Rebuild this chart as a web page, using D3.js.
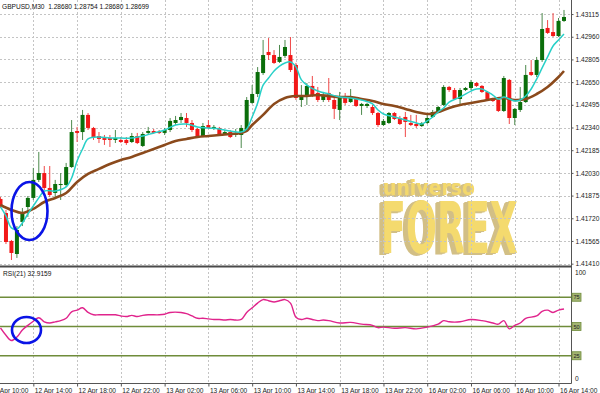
<!DOCTYPE html>
<html><head><meta charset="utf-8">
<script src="https://cdn.jsdelivr.net/npm/d3@7/dist/d3.min.js"></script>
<style>html,body{margin:0;padding:0;background:#fff;overflow:hidden}svg{display:block}</style>
</head><body><svg id="c" width="600" height="393"></svg>
<script>
// ---------- DATA ----------
const titleText = "GBPUSD,M30  1.28680 1.28754 1.28680 1.28699";
const rsiTitle = "RSI(21) 32.9159";
const watermarkTop = "universo";
const watermarkBottom = "FOREX";
const priceTicks = [1.43115,1.42960,1.42805,1.42650,1.42495,1.42340,1.42185,1.42030,1.41875,1.41720,1.41565,1.41410];
const timeTickIdx = [-2,6,14,22,30,38,46,54,62,70,78,86,94,102];
const timeLabels = ["12 Apr 10:00","12 Apr 14:00","12 Apr 18:00","12 Apr 22:00","13 Apr 02:00","13 Apr 06:00","13 Apr 10:00","13 Apr 14:00","13 Apr 18:00","13 Apr 22:00","16 Apr 02:00","16 Apr 06:00","16 Apr 10:00","16 Apr 14:00"];
const rsiLevels = [75,50,25];

const openP = [1.41852,1.41756,1.41565,1.41476,1.41695,1.41797,1.41859,1.41982,1.42029,1.41927,
1.41893,1.41947,1.41947,1.42070,1.42316,1.42309,1.42426,1.42337,1.42282,1.42268,
1.42268,1.42255,1.42255,1.42255,1.42241,1.42282,1.42214,1.42303,1.42316,1.42309,
1.42303,1.42323,1.42371,1.42391,1.42405,1.42371,1.42330,1.42282,1.42357,1.42337,
1.42337,1.42296,1.42309,1.42289,1.42289,1.42323,1.42508,1.42569,1.42712,1.42856,
1.42835,1.42788,1.42829,1.42835,1.42767,1.42528,1.42562,1.42624,1.42576,1.42528,
1.42576,1.42528,1.42460,1.42542,1.42514,1.42542,1.42487,1.42487,1.42480,1.42439,
1.42357,1.42371,1.42439,1.42405,1.42412,1.42371,1.42364,1.42350,1.42371,1.42412,
1.42439,1.42494,1.42617,1.42596,1.42535,1.42596,1.42610,1.42644,1.42624,1.42583,
1.42535,1.42528,1.42453,1.42665,1.42405,1.42460,1.42514,1.42719,1.42699,1.42801,
1.43020,1.42992,1.42965,1.43068];
const highP = [1.41865,1.41777,1.41572,1.41667,1.41790,1.41872,1.42064,1.42173,1.42077,1.42077,
1.41982,1.42029,1.42098,1.42391,1.42344,1.42460,1.42439,1.42344,1.42309,1.42289,
1.42289,1.42323,1.42275,1.42275,1.42303,1.42303,1.42309,1.42344,1.42330,1.42323,
1.42337,1.42405,1.42419,1.42439,1.42439,1.42391,1.42337,1.42371,1.42391,1.42357,
1.42344,1.42323,1.42323,1.42330,1.42357,1.42548,1.42630,1.42753,1.42938,1.42951,
1.42869,1.42904,1.42938,1.42958,1.42781,1.42630,1.42644,1.42692,1.42617,1.42583,
1.42678,1.42542,1.42583,1.42576,1.42603,1.42548,1.42508,1.42508,1.42494,1.42446,
1.42398,1.42446,1.42446,1.42419,1.42446,1.42426,1.42426,1.42378,1.42426,1.42460,
1.42487,1.42630,1.42624,1.42610,1.42610,1.42617,1.42665,1.42651,1.42630,1.42589,
1.42542,1.42548,1.42692,1.42671,1.42473,1.42617,1.42767,1.42801,1.42822,1.43122,
1.43074,1.43122,1.43088,1.43143];
const lowP = [1.41790,1.41544,1.41435,1.41449,1.41667,1.41729,1.41845,1.41968,1.41913,1.41865,
1.41865,1.41845,1.41934,1.42064,1.42241,1.42255,1.42323,1.42255,1.42234,1.42221,
1.42207,1.42234,1.42234,1.42221,1.42234,1.42227,1.42207,1.42289,1.42296,1.42296,
1.42289,1.42309,1.42357,1.42371,1.42344,1.42309,1.42268,1.42275,1.42330,1.42323,
1.42282,1.42289,1.42268,1.42275,1.42200,1.42309,1.42501,1.42548,1.42699,1.42801,
1.42774,1.42781,1.42815,1.42719,1.42528,1.42480,1.42494,1.42548,1.42514,1.42514,
1.42514,1.42398,1.42391,1.42494,1.42508,1.42480,1.42426,1.42473,1.42426,1.42344,
1.42350,1.42364,1.42391,1.42357,1.42275,1.42350,1.42337,1.42344,1.42364,1.42405,
1.42439,1.42487,1.42583,1.42528,1.42494,1.42589,1.42596,1.42617,1.42576,1.42528,
1.42514,1.42446,1.42446,1.42364,1.42357,1.42446,1.42508,1.42692,1.42685,1.42788,
1.42979,1.42958,1.42958,1.43061];
const closeP = [1.41804,1.41558,1.41483,1.41640,1.41756,1.41859,1.41982,1.42029,1.41927,1.41879,
1.41954,1.41954,1.42070,1.42309,1.42303,1.42426,1.42337,1.42275,1.42262,1.42255,
1.42255,1.42268,1.42241,1.42234,1.42282,1.42234,1.42296,1.42316,1.42303,1.42303,
1.42323,1.42385,1.42391,1.42412,1.42371,1.42323,1.42275,1.42350,1.42337,1.42344,
1.42289,1.42309,1.42275,1.42303,1.42337,1.42528,1.42569,1.42719,1.42835,1.42835,
1.42781,1.42822,1.42890,1.42733,1.42542,1.42562,1.42624,1.42562,1.42528,1.42562,
1.42528,1.42467,1.42542,1.42508,1.42548,1.42487,1.42501,1.42501,1.42439,1.42357,
1.42385,1.42439,1.42398,1.42364,1.42378,1.42357,1.42350,1.42371,1.42405,1.42446,
1.42480,1.42617,1.42596,1.42535,1.42596,1.42610,1.42651,1.42624,1.42583,1.42535,
1.42521,1.42453,1.42678,1.42405,1.42467,1.42514,1.42699,1.42699,1.42801,1.43013,
1.42986,1.42965,1.43068,1.43095];

const slowIdx = [0,2,4,6,8,10,12,14,16,18,20,22,24,26,28,30,32,34,36,38,40,42,44,45,46,48,50,52,54,56,58,60,62,64,66,68,70,72,74,76,78,80,82,84,86,88,90,92,94,96,98,100,102,103];
const slowVal = [1.41811,1.41777,1.41756,1.41784,1.41831,1.41859,1.41893,1.41968,1.42023,1.42057,1.42091,1.42118,1.42139,1.42166,1.42193,1.42221,1.42248,1.42262,1.42275,1.42282,1.42289,1.42296,1.42303,1.42316,1.42357,1.42426,1.42501,1.42542,1.42555,1.42555,1.42562,1.42555,1.42548,1.42548,1.42535,1.42521,1.42501,1.42487,1.42467,1.42446,1.42432,1.42446,1.42473,1.42494,1.42508,1.42521,1.42535,1.42542,1.42528,1.42535,1.42569,1.42617,1.42685,1.42726];

const fastIdx = [0,1,2,3,4,5,6,7,8,10,12,13,14,15,16,18,20,22,24,26,28,30,32,34,36,38,40,42,44,45,46,47,48,49,50,51,52,53,54,55,56,58,60,62,64,66,68,69,70,72,74,76,77,78,79,80,81,82,84,86,87,88,89,90,91,92,93,94,95,96,97,98,99,100,101,102,103];
const fastVal = [1.41797,1.41736,1.41654,1.41647,1.41688,1.41749,1.41804,1.41859,1.41906,1.41906,1.41934,1.41995,1.42111,1.42193,1.42262,1.42275,1.42268,1.42268,1.42268,1.42282,1.42303,1.42323,1.42357,1.42364,1.42344,1.42337,1.42330,1.42316,1.42309,1.42330,1.42412,1.42508,1.42630,1.42678,1.42726,1.42760,1.42781,1.42788,1.42754,1.42665,1.42630,1.42589,1.42569,1.42548,1.42542,1.42528,1.42501,1.42460,1.42432,1.42412,1.42391,1.42371,1.42364,1.42385,1.42412,1.42446,1.42473,1.42514,1.42548,1.42589,1.42603,1.42603,1.42583,1.42562,1.42535,1.42548,1.42535,1.42521,1.42528,1.42555,1.42603,1.42671,1.42747,1.42822,1.42897,1.42938,1.42979];

const rsiIdx = [0,1,2,3,4,5,6,7,8,9,10,11,12,13,14,15,16,17,18,20,21,22,23,24,25,26,27,29,30,31,33,34,35,36,37,38,39,40,41,42,43,44,45,46,47,48,49,50,51,52,53,54,55,56,57,58,59,60,62,64,66,68,69,70,72,74,76,78,80,81,82,84,86,88,90,91,92,93,94,95,96,98,99,100,101,102,103];
const rsiVal = [48.7,42.5,38,41,47,51,54.5,57.5,54,53,54,55,57,62.5,64,66,62,60,60,60,60,59,58.5,59.5,58.5,59.5,60,60,60.5,62,62,61,59,57,57,56.5,56,56,55.5,56,55.5,56,62,66,70,73,72,71,72,73,70,58,56,57,56,55,55.5,55,53,53.5,52,51,49,49.5,48.5,49,48,49.5,52,55,54,54,56,55,53,52,55,48,51,53,57,59,63,64,62,64,65];

// ---------- LAYOUT ----------
const svg = d3.select("#c");
const axisX = 571.5;
const mainBottom = 266;
const rsiTopY = 268, rsiBotY = 385, plotBottom = 383.5;
const fontAxis = "'Liberation Sans', Arial, sans-serif";

const x = d3.scaleLinear().domain([0, 103]).range([0.5, 564]);
const y = d3.scaleLinear().domain([1.41394, 1.43211]).range([mainBottom, 0]);
const yr = d3.scaleLinear().domain([0, 100]).range([rsiBotY, rsiTopY]);

svg.append("rect").attr("width",600).attr("height",393).attr("fill","#fff");

const defs = svg.append("defs");
defs.append("clipPath").attr("id","clipMain").append("rect").attr("x",0).attr("y",0).attr("width",axisX).attr("height",mainBottom);
defs.append("clipPath").attr("id","clipRsi").append("rect").attr("x",0).attr("y",267.5).attr("width",axisX).attr("height",plotBottom-267.5);

// extrusion filter for the watermark
const f = defs.append("filter").attr("id","ext").attr("x","-15%").attr("y","-15%").attr("width","130%").attr("height","130%");
f.append("feFlood").attr("flood-color","#d2bf86").attr("result","fl");
f.append("feComposite").attr("in","fl").attr("in2","SourceAlpha").attr("operator","in").attr("result","sh");
const offs = [5,4,3,2,1];
offs.forEach(k=>f.append("feOffset").attr("in","sh").attr("dx",-k).attr("dy",k*0.35).attr("result","o"+k));
const fm = f.append("feMerge");
offs.forEach(k=>fm.append("feMergeNode").attr("in","o"+k));
fm.append("feMergeNode").attr("in","SourceGraphic");

// ---------- WATERMARK ----------
function fitWord(word, left, baseline, width, size, fill) {
  const outer = svg.append("g").attr("filter","url(#ext)");
  const inner = outer.append("g");
  const t = inner.append("text").attr("x",0).attr("y",0)
    .attr("font-family","'DejaVu Sans Condensed','DejaVu Sans',sans-serif").attr("font-weight","bold")
    .attr("font-size",size).attr("fill",fill).text(word);
  const w = t.node().getComputedTextLength();
  inner.attr("transform",`translate(${left},${baseline}) scale(${width/w},1)`);
}
fitWord(watermarkTop, 383, 195, 92, 22, "#f3d86c");
fitWord(watermarkBottom, 381, 253, 137, 72, "#f4da6e");

// ---------- GRID ----------
const grid = svg.append("g").attr("stroke","#c4c4c4").attr("stroke-width",1).attr("stroke-dasharray","2,2");
grid.selectAll(".hg").data(priceTicks).join("line")
  .attr("x1",0).attr("x2",axisX).attr("y1",d=>Math.round(y(d))+0.5).attr("y2",d=>Math.round(y(d))+0.5);
grid.selectAll(".vg").data(timeTickIdx).join("line")
  .attr("x1",d=>Math.round(x(d))+0.5).attr("x2",d=>Math.round(x(d))+0.5).attr("y1",0).attr("y2",plotBottom);

// ---------- CANDLES ----------
const candles = d3.range(openP.length).map(i => ({i, o:openP[i], h:highP[i], l:lowP[i], c:closeP[i]}));
const cg = svg.append("g").attr("clip-path","url(#clipMain)");
cg.selectAll(".wick").data(candles).join("line")
  .attr("x1",d=>x(d.i)).attr("x2",d=>x(d.i))
  .attr("y1",d=>y(d.h)).attr("y2",d=>y(d.l))
  .attr("stroke",d=>d.c>=d.o ? "#4d8a4d" : "#f04848").attr("stroke-width",1);
cg.selectAll(".body").data(candles).join("rect")
  .attr("x",d=>x(d.i)-2).attr("width",4)
  .attr("y",d=>y(Math.max(d.o,d.c)))
  .attr("height",d=>Math.max(1, Math.abs(y(d.o)-y(d.c))))
  .attr("fill",d=>d.c>=d.o ? "#0a6e0a" : "#f21818");

// ---------- MOVING AVERAGES ----------
const slowData = slowIdx.map((d,k)=>[d, slowVal[k]]);
const fastData = fastIdx.map((d,k)=>[d, fastVal[k]]);
const lineP = d3.line().x(d=>x(d[0])).y(d=>y(d[1])).curve(d3.curveCatmullRom.alpha(0.5));
cg.append("path").attr("d",lineP(slowData)).attr("fill","none").attr("stroke","#8b4a1c").attr("stroke-width",2.6).attr("stroke-linejoin","round");
cg.append("path").attr("d",lineP(fastData)).attr("fill","none").attr("stroke","#28d0c8").attr("stroke-width",1.5).attr("stroke-linejoin","round");

// ---------- RSI ----------
const rg = svg.append("g").attr("clip-path","url(#clipRsi)");
rg.selectAll(".lvl").data(rsiLevels).join("line")
  .attr("x1",0).attr("x2",axisX).attr("y1",d=>yr(d)).attr("y2",d=>yr(d))
  .attr("stroke","#6f8c3a").attr("stroke-width",1.6);
const rsiData = rsiIdx.map((d,k)=>[d, rsiVal[k]]);
const lineR = d3.line().x(d=>x(d[0])).y(d=>yr(d[1])).curve(d3.curveCatmullRom.alpha(0.5));
rg.append("path").attr("d",lineR(rsiData)).attr("fill","none").attr("stroke","#e0248c").attr("stroke-width",1.4);

// ---------- ANNOTATION CIRCLES ----------
svg.append("ellipse").attr("cx",x(5.3)).attr("cy",y(1.41770)).attr("rx",18).attr("ry",29)
  .attr("fill","none").attr("stroke","#0a14e6").attr("stroke-width",2.6);
svg.append("ellipse").attr("cx",x(4.75)).attr("cy",yr(47)).attr("rx",14.5).attr("ry",13)
  .attr("fill","none").attr("stroke","#0a14e6").attr("stroke-width",2.6);

// ---------- FRAME ----------
svg.append("line").attr("x1",0).attr("x2",axisX).attr("y1",mainBottom+0.5).attr("y2",mainBottom+0.5).attr("stroke","#4a4a4a").attr("stroke-width",2);
svg.append("line").attr("x1",0).attr("x2",axisX).attr("y1",plotBottom).attr("y2",plotBottom).attr("stroke","#555").attr("stroke-width",1);
svg.append("line").attr("x1",axisX).attr("x2",axisX).attr("y1",0).attr("y2",plotBottom).attr("stroke","#555").attr("stroke-width",1);

// ---------- AXES ----------
const yAxis = d3.axisRight(y).tickValues(priceTicks).tickFormat(d3.format(".5f")).tickSize(2).tickPadding(2);
const gy = svg.append("g").attr("transform",`translate(${axisX},0)`).call(yAxis);
gy.select(".domain").remove();
gy.selectAll("text").attr("font-family",fontAxis).attr("font-size","6.6px").attr("fill","#222");
gy.selectAll("line").attr("stroke","#555");

const xAxis = d3.axisBottom(x).tickValues(timeTickIdx).tickFormat((d,k)=>timeLabels[k]).tickSize(3).tickPadding(2);
const gx = svg.append("g").attr("transform",`translate(0,${plotBottom})`).call(xAxis);
gx.select(".domain").remove();
gx.selectAll("text").attr("font-family",fontAxis).attr("font-size","6.6px").attr("fill","#222").attr("text-anchor","start").attr("dx","1px");
gx.selectAll("line").attr("stroke","#555");

// RSI scale labels
const rl = svg.append("g").attr("font-family",fontAxis).attr("font-size","6.6px").attr("fill","#222");
rl.append("text").attr("x",575).attr("y",yr(100)+6.5).text("100");
rl.append("text").attr("x",575).attr("y",yr(0)-4).text("0");
rsiLevels.forEach(v=>{
  rl.append("rect").attr("x",axisX+0.5).attr("y",yr(v)-4).attr("width",9).attr("height",8)
    .attr("fill","#a3b472").attr("stroke","#6f8c3a").attr("stroke-width",0.8);
  rl.append("text").attr("x",axisX+5).attr("y",yr(v)+2.2).attr("text-anchor","middle").attr("font-size","5.6px").text(v);
});

// ---------- TITLES ----------
svg.append("text").attr("x",2).attr("y",9).attr("font-family",fontAxis).attr("font-size","6.6px").attr("fill","#111").attr("xml:space","preserve").text(titleText);
svg.append("text").attr("x",3).attr("y",276).attr("font-family",fontAxis).attr("font-size","6.6px").attr("fill","#111").text(rsiTitle);
</script></body></html>
